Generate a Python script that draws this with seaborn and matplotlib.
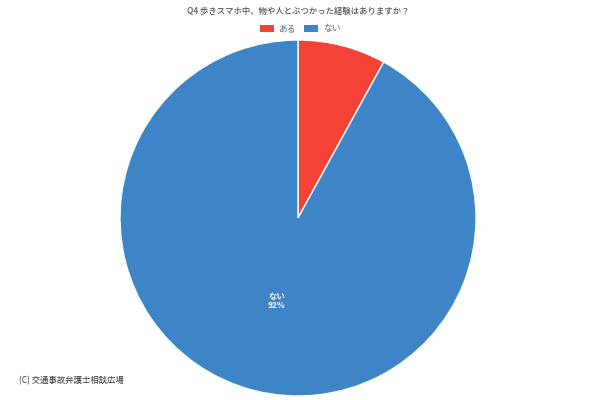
import matplotlib
matplotlib.use("Agg")
import matplotlib.pyplot as plt
from matplotlib.patches import Patch
import numpy as np
import seaborn as sns

# data
labels = ["ある", "ない"]
shares = [8, 92]
colors = ["#F44336", "#3D85C6"]

title = "Q4 歩きスマホ中、物や人とぶつかった経験はありますか？"
credit = "(C) 交通事故弁護士相談広場"

sns.set_theme(style="white")
plt.rcParams["font.family"] = ["Noto Sans CJK JP", "DejaVu Sans"]

fig = plt.figure(figsize=(6, 4), dpi=100)
# pie centre ~ (298, 218) px, radius ~178 px
ax = fig.add_axes([(298 - 178) / 600, (400 - 218 - 178) / 400, 356 / 600, 356 / 400])

wedges, texts = ax.pie(
    shares,
    colors=colors,
    startangle=90,
    counterclock=False,
    radius=1,
    wedgeprops=dict(edgecolor="white", linewidth=1),
)
ax.set_xlim(-1, 1)
ax.set_ylim(-1, 1)
ax.set_aspect("equal")
ax.axis("off")

# label only the big slice, as in the reference
w = wedges[1]
mid = np.deg2rad((w.theta1 + w.theta2) / 2)
ax.text(0.48 * np.cos(mid), 0.48 * np.sin(mid), f"{labels[1]}\n{shares[1]}%",
        ha="center", va="center", color="white", fontsize=6, fontweight="bold",
        linespacing=1.0)

fig.text(298 / 600, 1 - 11 / 400, title, ha="center", va="center",
         fontsize=6, color="#555555", fontweight="medium")

handles = [Patch(facecolor=c, edgecolor="none") for c in colors]
fig.legend(handles, labels, loc="center", bbox_to_anchor=(300 / 600, 1 - 29 / 400),
           ncol=2, frameon=False, fontsize=6.3, handlelength=1.6, handleheight=0.9,
           handletextpad=0.5, columnspacing=1.0, labelcolor="#666666")

fig.text(19 / 600, 1 - 381 / 400, credit, ha="left", va="center",
         fontsize=6, color="#333333")

fig.savefig("out.png", dpi=100)
